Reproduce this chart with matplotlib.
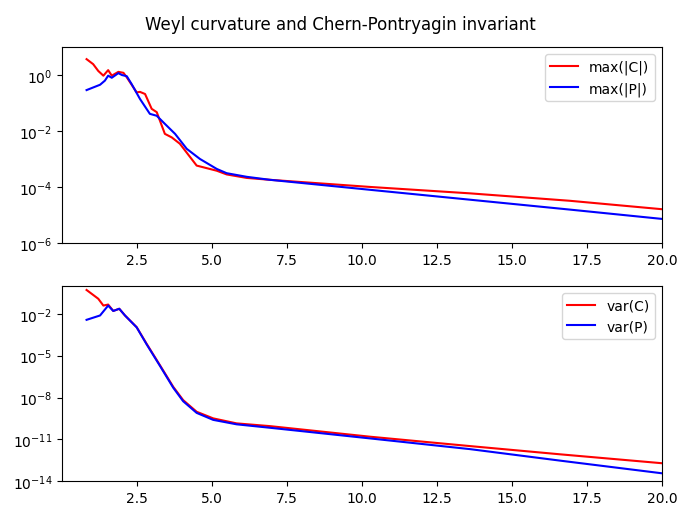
import numpy as np
import matplotlib
matplotlib.use("Agg")
import matplotlib.pyplot as plt

# radius values and the invariants
r_maxC = [0.82, 1.04, 1.21, 1.38, 1.54, 1.66, 1.88, 2.05, 2.16, 2.49, 2.6, 2.77, 2.99,
          3.16, 3.43, 3.66, 3.93, 4.49, 5.16, 5.49, 6.16, 6.93, 10.27, 13.6, 16.93, 20.0]
max_C = [3.7, 2.45, 1.4, 0.95, 1.5, 0.95, 1.3, 1.2, 0.83, 0.24, 0.25, 0.21, 6.2e-2,
         4.7e-2, 7.9e-3, 5.9e-3, 3.5e-3, 5.8e-4, 3.8e-4, 2.8e-4, 2.1e-4, 1.8e-4,
         1.0e-4, 5.9e-5, 3.2e-5, 1.6e-5]

r_maxP = [0.82, 1.27, 1.43, 1.54, 1.66, 1.88, 2.0, 2.16, 2.32, 2.6, 2.93, 3.16, 3.43,
          3.77, 4.16, 4.6, 5.16, 5.49, 6.16, 6.93, 10.27, 13.6, 16.93, 20.0]
max_P = [0.29, 0.45, 0.63, 0.95, 0.8, 1.17, 1.0, 0.91, 0.48, 0.14, 4.1e-2, 3.5e-2, 1.8e-2,
         7.9e-3, 2.3e-3, 1.0e-3, 4.4e-4, 3.1e-4, 2.3e-4, 1.8e-4,
         7.9e-5, 3.5e-5, 1.55e-5, 7.2e-6]

r_varC = [0.82, 1.21, 1.38, 1.54, 1.71, 1.91, 2.1, 2.49, 2.82, 3.27, 3.71, 4.04, 4.49,
          5.04, 5.82, 6.93, 10.27, 13.6, 16.6, 20.0]
var_C = [5.1e-1, 1.2e-1, 3.9e-2, 4.6e-2, 1.6e-2, 2.3e-2, 7.6e-3, 1.1e-3, 7.2e-5, 2.0e-6,
         5.8e-8, 6.5e-9, 9.5e-10, 3.2e-10, 1.4e-10, 8.9e-11, 1.55e-11, 3.3e-12, 8.5e-13,
         1.95e-13]

r_varP = [0.82, 1.27, 1.54, 1.71, 1.91, 2.1, 2.49, 2.82, 3.27, 3.71, 4.04, 4.49,
          5.04, 5.82, 6.93, 10.27, 13.6, 16.6, 20.0]
var_P = [3.7e-3, 7.6e-3, 3.9e-2, 1.6e-2, 2.3e-2, 7.6e-3, 1.07e-3, 6.6e-5, 1.8e-6,
         5.0e-8, 5.4e-9, 7.9e-10, 2.5e-10, 1.2e-10, 6.8e-11, 1.17e-11, 2.0e-12, 3.0e-13,
         3.7e-14]

fig = plt.figure(figsize=(6.81, 5.06), dpi=100)
ax1 = fig.add_axes([0.091, 0.518, 0.881, 0.387])
ax2 = fig.add_axes([0.091, 0.047, 0.881, 0.386])

ax1.semilogy(r_maxC, max_C, color="red", label="max(|C|)")
ax1.semilogy(r_maxP, max_P, color="blue", label="max(|P|)")
ax1.set_xlim(0, 20)
ax1.set_ylim(1e-6, 1e1)
ax1.set_yticks([1e-6, 1e-4, 1e-2, 1e0])
ax1.minorticks_off()
ax1.legend(loc="upper right")

ax2.semilogy(r_varC, var_C, color="red", label="var(C)")
ax2.semilogy(r_varP, var_P, color="blue", label="var(P)")
ax2.set_xlim(0, 20)
ax2.set_ylim(1e-14, 1e0)
ax2.set_yticks([1e-14, 1e-11, 1e-8, 1e-5, 1e-2])
ax2.minorticks_off()
ax2.legend(loc="upper right")

for ax in (ax1, ax2):
    ax.set_xticks([2.5, 5.0, 7.5, 10.0, 12.5, 15.0, 17.5, 20.0])

fig.suptitle("Weyl curvature and Chern-Pontryagin invariant", y=0.968)
fig.savefig("out.png", dpi=100)
